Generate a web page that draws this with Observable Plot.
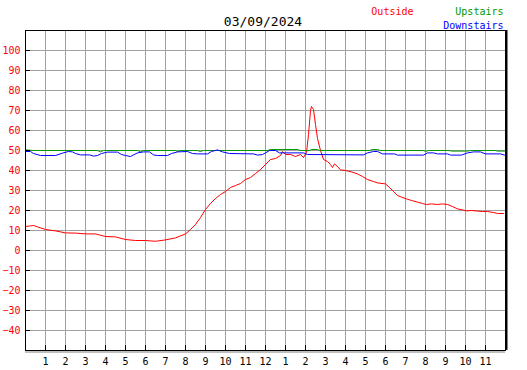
<!DOCTYPE html>
<html><head><meta charset="utf-8">
<script src="https://cdn.jsdelivr.net/npm/d3@7"></script>
<script src="https://cdn.jsdelivr.net/npm/@observablehq/plot@0.6"></script>
<style>body{margin:0;background:#fff}</style>
</head><body><div id="chart"></div>
<script>
const title = "03/09/2024";
const seriesNames = ["Outside", "Upstairs", "Downstairs"];
const seriesColors = ["#ff0000", "#009900", "#0000ff"];

const outsideHours = [0,0.25,0.4,0.6,1,1.5,2,2.5,3,3.5,4,4.5,5,5.5,6,6.5,7,7.5,8,8.25,8.5,8.75,9,9.25,9.5,9.75,10,10.25,10.5,10.75,11,11.25,11.5,11.75,12,12.25,12.5,12.75,12.85,13,13.25,13.5,13.75,13.9,14.05,14.15,14.25,14.3,14.4,14.5,14.6,14.75,14.9,15.1,15.25,15.35,15.45,15.6,15.75,16,16.3,16.6,16.85,17.1,17.4,17.6,18,18.2,18.4,18.6,18.8,19.05,19.3,19.6,19.85,20.05,20.3,20.6,20.85,21.1,21.35,21.6,21.85,22.05,22.3,22.6,22.85,23.1,23.4,23.6,23.9];
const outsideTemps = [12,12.3,12.5,11.8,10.5,9.8,8.8,8.7,8.3,8.3,7,6.8,5.5,5,5,4.6,5.3,6.3,8.3,10.5,13,16.5,20.5,23.5,26,28,29.5,31.5,32.5,33.5,35.5,36.5,38.5,40.5,43,45.5,46,47.5,49.5,48,48,47,48,46.5,49,58,70,72,70.5,63,56,50,45.5,44.5,43,41.5,43.3,42,40.3,40,39.3,38.3,37,35.5,34.5,33.8,33.3,31.5,29.5,27.5,26.7,25.8,25,24.2,23.5,23,23.3,23,23.3,23,22,20.8,20.3,19.8,20,19.7,19.5,19.5,19,18.5,18.5];

const upstairsHours = [0,0.4,3.6,3.75,3.9,5.6,5.75,5.9,7.5,7.6,7.75,8.6,8.75,8.9,12.1,12.25,13.6,13.75,14.2,14.3,14.6,14.7,17.2,17.35,17.6,17.75,19.9,20,20.15,21.2,21.3,22.1,22.25,23.5,23.6,23.95];
const upstairsTemps = [50.3,50,50,49.3,50,50,49.3,50,50,49.5,50,50,49.5,50,50,50.5,50.5,50,50,50.5,50.5,50,50,50.5,50.5,50,50,49.5,50,50,49.7,49.7,50,50,49.7,49.7];

const downstairsHours = [0,0.25,0.4,0.75,1.5,1.85,2.15,2.35,2.5,2.75,3.2,3.4,3.6,3.8,4.1,4.6,4.8,5,5.25,5.4,5.6,5.9,6.2,6.4,6.6,7.1,7.3,7.6,8.1,8.35,8.6,9.1,9.3,9.6,9.85,10.2,11.4,11.6,11.85,12,12.2,12.5,12.7,13.9,14.1,16.9,17.1,17.4,17.6,17.85,18.45,18.6,19.9,20.1,20.4,20.6,21.1,21.25,21.8,22.1,22.4,22.75,23,23.75,23.95];
const downstairsTemps = [49.5,49.5,48.5,47.5,47.5,48.7,49.5,49.3,48.5,47.8,47.8,47.2,47.5,48.5,49.2,49.2,48,47.5,47,47.8,48.8,49.3,49.3,47.8,47.5,47.5,48.5,49.3,49.5,48.5,48.3,48.3,49.5,50.3,49.3,48.5,48.3,47.7,48,48.8,50,50,48.8,48.8,48,47.8,48.8,49.5,49.5,48.3,48.3,47.7,47.7,48.8,48.8,48.3,48.3,47.7,47.7,48.8,49.3,49.3,48.3,48.3,47.7];

const yTicks = [-40,-30,-20,-10,0,10,20,30,40,50,60,70,80,90,100];
const hourTicks = [1,2,3,4,5,6,7,8,9,10,11,12,13,14,15,16,17,18,19,20,21,22,23];
const hourLabels = ["1","2","3","4","5","6","7","8","9","10","11","12","1","2","3","4","5","6","7","8","9","10","11"];
const xDomain = [0, 24];
const yDomain = [-50, 110];

const rows = (hs, vs) => hs.map((h, i) => ({h, v: vs[i]}));
const outside = rows(outsideHours, outsideTemps);
const upstairs = rows(upstairsHours, upstairsTemps);
const downstairs = rows(downstairsHours, downstairsTemps);

const chart = Plot.plot({
  width: 527, height: 370,
  marginLeft: 25, marginRight: 22, marginTop: 30, marginBottom: 20,
  x: {domain: xDomain, label: null},
  y: {domain: yDomain, label: null},
  style: {fontFamily: "'DejaVu Sans Mono', monospace", fontSize: "10px", background: "white", color: "black"},
  marks: [
    Plot.gridX(hourTicks, {stroke: "#a0a0a0", strokeOpacity: 1}),
    Plot.gridY(yTicks, {stroke: "#a0a0a0", strokeOpacity: 1}),
    Plot.ruleX([xDomain[1]], {dx: 2, stroke: "#808080"}),
    Plot.ruleY([yDomain[0]], {dy: 1.5, stroke: "#808080"}),
    Plot.ruleX([xDomain[1]], {dx: 1, stroke: "black"}),
    Plot.line(outside, {x: "h", y: "v", stroke: seriesColors[0], strokeWidth: 1}),
    Plot.line(upstairs, {x: "h", y: "v", stroke: seriesColors[1], strokeWidth: 1}),
    Plot.line(downstairs, {x: "h", y: "v", stroke: seriesColors[2], strokeWidth: 1}),
    Plot.frame({stroke: "black"}),
    Plot.tickX(hourTicks, {x: d => d, insetTop: 315, stroke: "black"}),
    Plot.tickY(yTicks, {y: d => d, insetRight: 475, stroke: "black"}),
    Plot.axisX(hourTicks, {tickFormat: d => hourLabels[hourTicks.indexOf(d)], tickSize: 0, tickPadding: 7, fill: "black", label: null}),
    Plot.axisY(yTicks, {tickSize: 0, tickPadding: 5, fill: "red", label: null}),
    Plot.text([title], {frameAnchor: "top", lineAnchor: "middle", dx: -2.5, dy: -8.7, fontSize: 13, fill: "black"}),
    Plot.text([seriesNames[0]], {frameAnchor: "top-right", lineAnchor: "middle", dx: -92, dy: -18.7, textAnchor: "end", fill: seriesColors[0]}),
    Plot.text([seriesNames[1]], {frameAnchor: "top-right", lineAnchor: "middle", dx: -2, dy: -18.7, textAnchor: "end", fill: seriesColors[1]}),
    Plot.text([seriesNames[2]], {frameAnchor: "top-right", lineAnchor: "middle", dx: -2, dy: -5.2, textAnchor: "end", fill: seriesColors[2]})
  ]
});
document.getElementById("chart").appendChild(chart);
</script>
</body></html>
